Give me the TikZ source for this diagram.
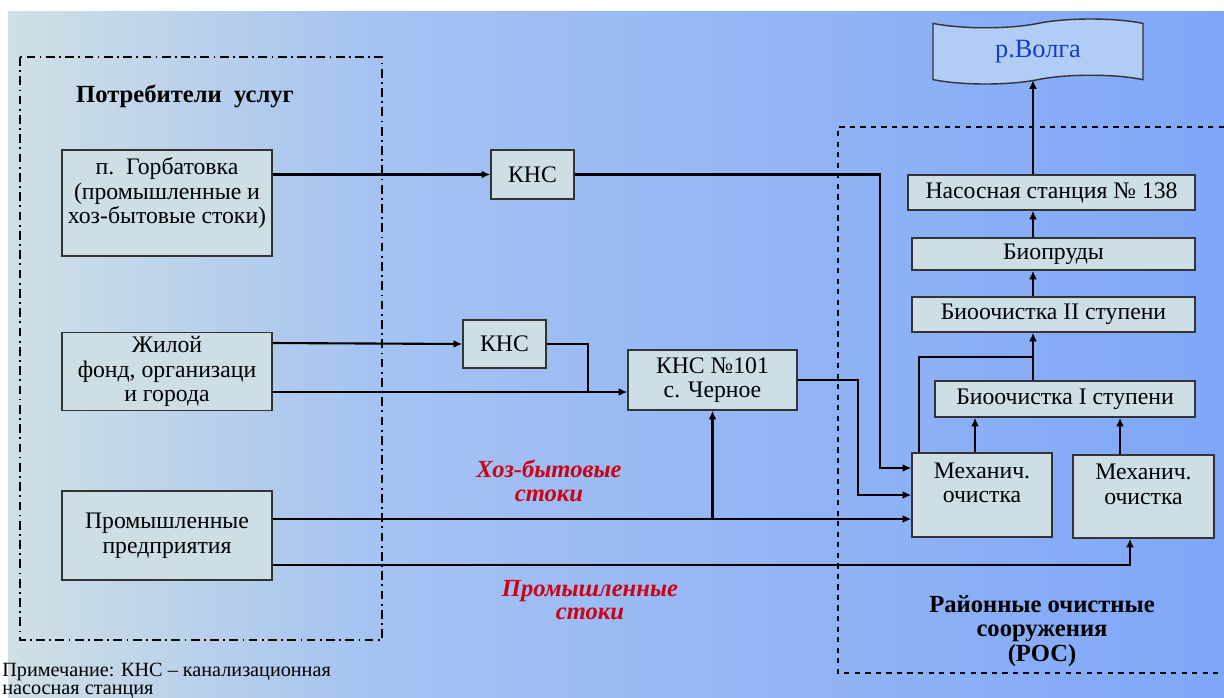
\documentclass[tikz,border=0pt]{standalone}
\usepackage{fontspec}
\setmainfont{Liberation Serif}
\usetikzlibrary{arrows.meta,shapes.symbols}
\definecolor{boxfill}{RGB}{205,222,228}
\definecolor{volgafill}{RGB}{178,205,245}
\definecolor{volgatext}{RGB}{25,60,200}
\definecolor{redtext}{RGB}{205,0,20}
\definecolor{skyA}{RGB}{208,224,228}
\definecolor{skyB}{RGB}{165,195,242}
\definecolor{skyC}{RGB}{128,166,248}
\pgfdeclarehorizontalshading{sky}{100bp}{color(0bp)=(skyA); color(25bp)=(skyA); color(40bp)=(skyB); color(75bp)=(skyC); color(100bp)=(skyC)}
\begin{document}
\begin{tikzpicture}[x=0.02cm, y=-0.02cm,
  blok/.style={draw=black!80, fill=boxfill, line width=0.8pt, align=center,
    inner sep=2pt, font=\fontsize{13.5}{14}\selectfont},
  potok/.style={line width=1.2pt},
  strelka/.style={potok, -{Latex[length=5pt,width=4.5pt]}},
  metka/.style={font=\fontsize{14}{13.5}\selectfont\bfseries\itshape, text=redtext, align=center},
  zagolovok/.style={font=\fontsize{14}{14}\selectfont\bfseries, align=center}]

  \useasboundingbox (0,0) rectangle (1224,697);
  \shade[shading=sky] (8,11) rectangle (1224,697);

  % groups
  \draw[line width=1.1pt, dash pattern=on 5pt off 2.5pt on 1pt off 2.5pt] (20,57) rectangle (382,640);
  \draw[line width=1.1pt, dashed] (1224,127) -- (838,127) -- (838,673) -- (1224,673);
  \node[zagolovok] (potr) at (185,96) {Потребители\ \ услуг};
  \node[zagolovok] (ros) at (1042,631) {Районные очистные\\сооружения\\(РОС)};

  % consumers
  \node[blok, minimum width=4.2cm, minimum height=2.12cm] (gorb) at (167,203)
    {п.\ \ Горбатовка\\(промышленные и\\хоз-бытовые стоки)\\\mbox{}};
  \node[blok, minimum width=4.2cm, minimum height=1.54cm] (zhil) at (167,371.5)
    {Жилой\\фонд, организаци\\и города};
  \node[blok, minimum width=4.2cm, minimum height=1.78cm] (prom) at (167,535.5)
    {Промышленные\\предприятия};

  % pumping stations
  \node[blok, minimum width=1.66cm, minimum height=0.98cm] (kns1) at (532.5,174.5) {КНС};
  \node[blok, minimum width=1.66cm, minimum height=0.96cm] (kns2) at (504.5,344) {КНС};
  \node[blok, minimum width=3.38cm, minimum height=1.2cm] (kns101) at (712.5,380)
    {КНС №101\\с. Черное};

  % treatment
  \node[tape, draw=black!80, fill=volgafill, line width=0.8pt, minimum width=4.2cm,
    minimum height=1.3cm, font=\fontsize{15}{15}\selectfont, text=volgatext] (volga) at (1038,51.5) {р.Волга\hspace{1em}};
  \node[blok, minimum width=5.74cm, minimum height=0.7cm] (nas) at (1051.5,192.5) {Насосная станция № 138};
  \node[blok, minimum width=5.66cm, minimum height=0.64cm] (prud) at (1053.5,254) {Биопруды};
  \node[blok, minimum width=5.66cm, minimum height=0.7cm] (bio2) at (1053.5,314.5) {Биоочистка II ступени};
  \node[blok, minimum width=5.2cm, minimum height=0.72cm] (bio1) at (1065,399) {Биоочистка I ступени};
  \node[blok, minimum width=2.8cm, minimum height=1.68cm] (mech1) at (982,495) {Механич.\\очистка\\\mbox{}};
  \node[blok, minimum width=2.82cm, minimum height=1.66cm] (mech2) at (1143.5,496.5) {Механич.\\очистка\\\mbox{}};

  % labels
  \node[metka] (hoz) at (549,481) {Хоз-бытовые\\стоки};
  \node[metka] (prst) at (590,600) {Промышленные\\стоки};
  \node[anchor=north west, align=left, inner sep=0pt, font=\fontsize{11.5}{10}\selectfont] (prim) at (2,663)
    {Примечание: КНС – канализационная\\насосная станция};

  % columns for the pipes
  \coordinate (colA) at (880,0);
  \coordinate (colB) at (858,0);
  \coordinate (colC) at (588,0);
  \coordinate (colD) at (1130,0);
  \coordinate (jn) at (1033,357);
  \coordinate (m1a) at ([yshift=0.54cm]mech1.west);
  \coordinate (zin) at ([yshift=-0.41cm]zhil.east);
  \coordinate (p1) at ([yshift=0.33cm]prom.east);
  \coordinate (p2) at ([yshift=-0.59cm]prom.east);

  \draw[strelka] (gorb.east |- kns1.west) -- (kns1.west);
  \draw[strelka] (kns1.east) -- (kns1.east -| colA) -- (m1a -| colA) -- (m1a);
  \draw[strelka] ([yshift=0.57cm]zhil.east) -- (kns2.west |- kns2.west);
  \draw[potok] (kns2.east) -- (kns2.east -| colC) -- (zin -| colC);
  \draw[strelka] (zin) -- (zin -| kns101.west);
  \draw[strelka] (kns101.east) -- (kns101.east -| colB) -- (mech1.west -| colB) -- (mech1.west);
  \draw[strelka] (p1) -- (p1 -| mech1.west);
  \draw[strelka] (p1 -| kns101.south) -- (kns101.south);
  \draw[strelka] (p2) -- (p2 -| colD) -- (mech2.south -| colD);
  \draw[strelka] ([xshift=-0.14cm]mech1.north) coordinate (m1t) -- (m1t |- bio1.south);
  \draw[strelka] ([xshift=-0.47cm]mech2.north) coordinate (m2t) -- (m2t |- bio1.south);
  \draw[potok] ([xshift=0.16cm]mech1.north west) coordinate (m1l) -- (m1l |- jn) -- (jn);
  \draw[potok] (bio1.north -| jn) -- (jn);
  \draw[strelka] (jn) -- (jn |- bio2.south);
  \draw[strelka] (bio2.north -| jn) -- (jn |- prud.south);
  \draw[strelka] (prud.north -| jn) -- (jn |- nas.south);
  \draw[strelka] (nas.north -| jn) -- (jn |- volga.south);
\end{tikzpicture}
\end{document}
